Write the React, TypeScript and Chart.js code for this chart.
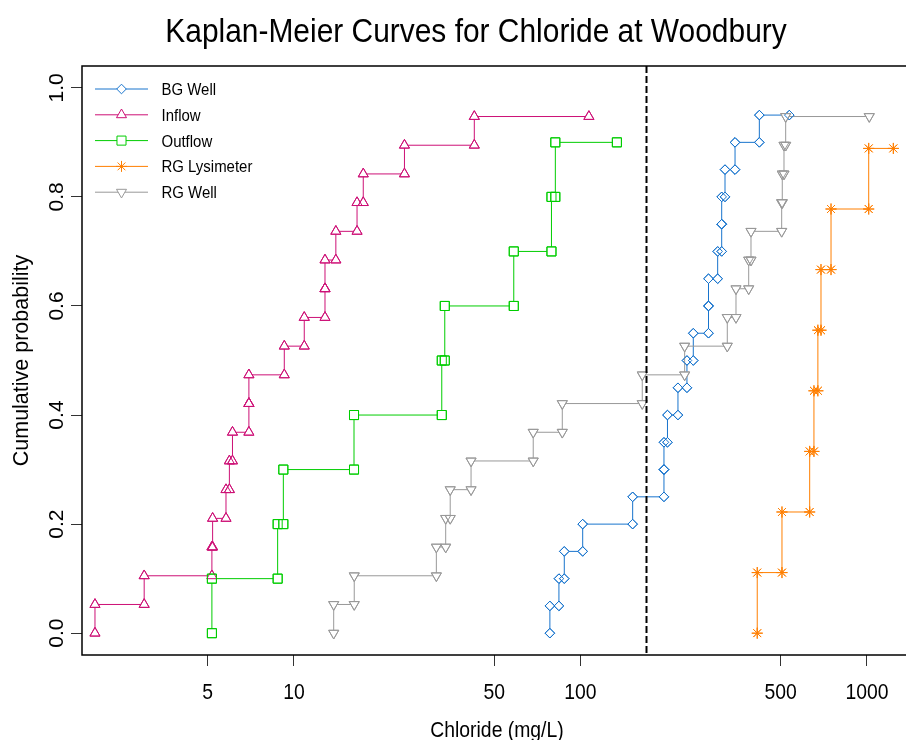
import React, { useEffect, useRef } from 'react';
import { Chart, registerables } from 'chart.js';

Chart.register(...registerables);

// ---------- data (concentrations in mg/L, sorted, one per observation) ----------
const TITLE = 'Kaplan-Meier Curves for Chloride at Woodbury';
const X_TITLE = 'Chloride (mg/L)';
const Y_TITLE = 'Cumulative probability';

const SERIES_NAMES = ['BG Well', 'Inflow', 'Outflow', 'RG Lysimeter', 'RG Well'];

const BG_WELL = [78.2, 84.1, 87.8, 101.8, 152.1, 195.6, 195.6, 201.2, 218.9, 235.3, 247.6, 279.8, 279.8, 301.2, 311.1, 311.1, 319.5, 346.3, 421, 535.6];
const INFLOW = [2.02, 3.0, 5.17, 5.2, 5.79, 5.95, 6.1, 6.96, 6.96, 9.25, 10.86, 12.83, 12.83, 14.0, 16.6, 17.45, 24.3, 42.6, 107];
const OUTFLOW = [5.17, 8.77, 9.18, 16.2, 32.8, 33.6, 58.5, 79.2, 81.7, 134];
const RG_LYSIMETER = [414, 505, 631, 653, 674, 691, 749, 1014, 1236];
const RG_WELL = [13.76, 16.23, 31.4, 33.85, 35.1, 41.5, 68.4, 86.4, 164.3, 231, 325.4, 349, 386.5, 393.7, 503.8, 506.2, 513.3, 520.3, 1018.6];

const SERIES_VALUES = [BG_WELL, INFLOW, OUTFLOW, RG_LYSIMETER, RG_WELL];

const X_TICKS = [5, 10, 50, 100, 500, 1000];
const X_TICK_LABELS = ['5', '10', '50', '100', '500', '1000'];
const Y_TICKS = [0, 0.2, 0.4, 0.6, 0.8, 1.0];
const Y_TICK_LABELS = ['0.0', '0.2', '0.4', '0.6', '0.8', '1.0'];
const REFERENCE_LINE = 170;

const X_MIN = 1.82;
const X_MAX = 1436;
const Y_MIN = -0.04;
const Y_MAX = 1.04;

// ---------- styles ----------
const COLORS = ['#1874CD', '#CD1076', '#00CD00', '#FF7F00', '#999999'];
const POINT_STYLES = ['rectRot', 'triangle', 'rect', 'star', 'triangle'];
const POINT_ROTATIONS = [0, 0, 0, 0, 180];
const POINT_RADII = [4.8, 5.8, 6.4, 5.5, 5.8];
const FONT = '"Liberation Sans", Arial, Helvetica, sans-serif';
const SX = 0.88;

// Kaplan-Meier style step corners from sorted observations
function stepPoints(values: number[]) {
  const n = values.length;
  const pts: { x: number; y: number }[] = [];
  for (let i = 0; i < n - 1; i++) {
    pts.push({ x: values[i], y: i / n });
    pts.push({ x: values[i], y: (i + 1) / n });
  }
  pts.push({ x: values[n - 1], y: (n - 1) / n });
  return pts;
}

function text(
  ctx: CanvasRenderingContext2D,
  s: string,
  x: number,
  y: number,
  size: number,
  align: CanvasTextAlign,
  rotate = false
) {
  ctx.save();
  ctx.translate(x, y);
  if (rotate) ctx.rotate(-Math.PI / 2);
  else ctx.scale(SX, 1);
  ctx.font = `${size}px ${FONT}`;
  ctx.fillStyle = '#000';
  ctx.textAlign = align;
  ctx.textBaseline = 'alphabetic';
  ctx.fillText(s, 0, 0);
  ctx.restore();
}

function marker(ctx: CanvasRenderingContext2D, style: string, rot: number, r: number, x: number, y: number, color: string) {
  ctx.save();
  ctx.strokeStyle = color;
  ctx.fillStyle = '#fff';
  ctx.lineWidth = 1;
  ctx.beginPath();
  if (style === 'rectRot') {
    ctx.moveTo(x - r, y);
    ctx.lineTo(x, y - r);
    ctx.lineTo(x + r, y);
    ctx.lineTo(x, y + r);
    ctx.closePath();
    ctx.fill();
    ctx.stroke();
  } else if (style === 'rect') {
    const h = Math.SQRT1_2 * r;
    ctx.rect(x - h, y - h, 2 * h, 2 * h);
    ctx.fill();
    ctx.stroke();
  } else if (style === 'triangle') {
    let a = (rot * Math.PI) / 180;
    ctx.moveTo(x + Math.sin(a) * r, y - Math.cos(a) * r);
    a += (2 * Math.PI) / 3;
    ctx.lineTo(x + Math.sin(a) * r, y - Math.cos(a) * r);
    a += (2 * Math.PI) / 3;
    ctx.lineTo(x + Math.sin(a) * r, y - Math.cos(a) * r);
    ctx.closePath();
    ctx.fill();
    ctx.stroke();
  } else if (style === 'star') {
    const d = Math.SQRT1_2 * r;
    ctx.moveTo(x - r, y);
    ctx.lineTo(x + r, y);
    ctx.moveTo(x, y - r);
    ctx.lineTo(x, y + r);
    ctx.moveTo(x - d, y - d);
    ctx.lineTo(x + d, y + d);
    ctx.moveTo(x - d, y + d);
    ctx.lineTo(x + d, y - d);
    ctx.stroke();
  }
  ctx.restore();
}

const decorPlugin = {
  id: 'decor',
  afterDatasetsDraw(chart: any) {
    const { ctx, chartArea: a, scales } = chart;
    const xs = scales.x;
    const ys = scales.y;

    // reference dashed line
    const xp = xs.getPixelForValue(REFERENCE_LINE);
    ctx.save();
    ctx.strokeStyle = '#000';
    ctx.lineWidth = 2;
    ctx.setLineDash([7, 3]);
    ctx.beginPath();
    ctx.moveTo(xp, a.top);
    ctx.lineTo(xp, a.bottom);
    ctx.stroke();
    ctx.restore();

    // plot box
    ctx.save();
    ctx.strokeStyle = '#000';
    ctx.lineWidth = 1.5;
    ctx.strokeRect(a.left, a.top, a.right - a.left, a.bottom - a.top);
    ctx.restore();

    // tick labels
    X_TICKS.forEach((v, i) => text(ctx, X_TICK_LABELS[i], xs.getPixelForValue(v), 699, 22, 'center'));
    Y_TICKS.forEach((v, i) => text(ctx, Y_TICK_LABELS[i], 63, ys.getPixelForValue(v), 21, 'center', true));

    // titles
    text(ctx, TITLE, 476, 42, 34, 'center');
    text(ctx, X_TITLE, (a.left + a.right) / 2, 737, 22, 'center');
    text(ctx, Y_TITLE, 28, (a.top + a.bottom) / 2, 21.5, 'center', true);

    // legend
    SERIES_NAMES.forEach((name, i) => {
      const y = 89 + 25.8 * i;
      ctx.save();
      ctx.strokeStyle = COLORS[i];
      ctx.lineWidth = 1;
      ctx.beginPath();
      ctx.moveTo(95, y);
      ctx.lineTo(148, y);
      ctx.stroke();
      ctx.restore();
      marker(ctx, POINT_STYLES[i], POINT_ROTATIONS[i], POINT_RADII[i], 121.5, y, COLORS[i]);
      text(ctx, name, 161.5, y + 6, 17, 'left');
    });
  },
};

export default function App() {
  const ref = useRef<HTMLCanvasElement | null>(null);

  useEffect(() => {
    if (!ref.current) return;
    const base = SERIES_VALUES.map((vals, i) => ({
      label: SERIES_NAMES[i],
      data: stepPoints(vals),
      showLine: true,
      borderColor: COLORS[i],
      borderWidth: 1,
      pointStyle: POINT_STYLES[i],
      pointRotation: POINT_ROTATIONS[i],
      pointRadius: POINT_RADII[i],
      pointHoverRadius: POINT_RADII[i],
      pointBackgroundColor: '#ffffff',
      pointBorderColor: COLORS[i],
      pointBorderWidth: 1,
      order: 20 - i,
    }));
    const overlay = SERIES_VALUES.map((vals, i) => ({
      label: SERIES_NAMES[i] + ' markers',
      data: stepPoints(vals),
      showLine: false,
      pointStyle: POINT_STYLES[i],
      pointRotation: POINT_ROTATIONS[i],
      pointRadius: POINT_RADII[i],
      pointHoverRadius: POINT_RADII[i],
      pointBackgroundColor: 'rgba(0,0,0,0)',
      pointBorderColor: COLORS[i],
      pointBorderWidth: 1,
      order: 10 - i,
    }));

    const chart = new Chart(ref.current, {
      type: 'scatter',
      data: { datasets: [...base, ...overlay] as any },
      options: {
        animation: false,
        responsive: false,
        events: [],
        layout: { padding: { top: 66, right: 8, bottom: 0, left: 0 } },
        plugins: { legend: { display: false }, title: { display: false }, tooltip: { enabled: false } },
        scales: {
          x: {
            type: 'logarithmic',
            min: X_MIN,
            max: X_MAX,
            afterBuildTicks: (s: any) => {
              s.ticks = X_TICKS.map((v) => ({ value: v }));
            },
            afterFit: (s: any) => {
              s.height = 85;
            },
            ticks: { display: false },
            grid: { display: true, drawOnChartArea: false, drawTicks: true, tickLength: 11, tickColor: '#333', tickWidth: 1 },
            border: { display: false },
          },
          y: {
            type: 'linear',
            min: Y_MIN,
            max: Y_MAX,
            afterBuildTicks: (s: any) => {
              s.ticks = Y_TICKS.map((v) => ({ value: v }));
            },
            afterFit: (s: any) => {
              s.width = 82;
            },
            ticks: { display: false },
            grid: { display: true, drawOnChartArea: false, drawTicks: true, tickLength: 11, tickColor: '#333', tickWidth: 1 },
            border: { display: false },
          },
        },
      },
      plugins: [decorPlugin],
    });
    return () => chart.destroy();
  }, []);

  return (
    <div style={{ position: 'absolute', left: 0, top: 0, width: 906, height: 740, overflow: 'hidden', background: '#fff' }}>
      <canvas ref={ref} width={920} height={740} style={{ display: 'block', width: 920, height: 740 }} />
    </div>
  );
}
